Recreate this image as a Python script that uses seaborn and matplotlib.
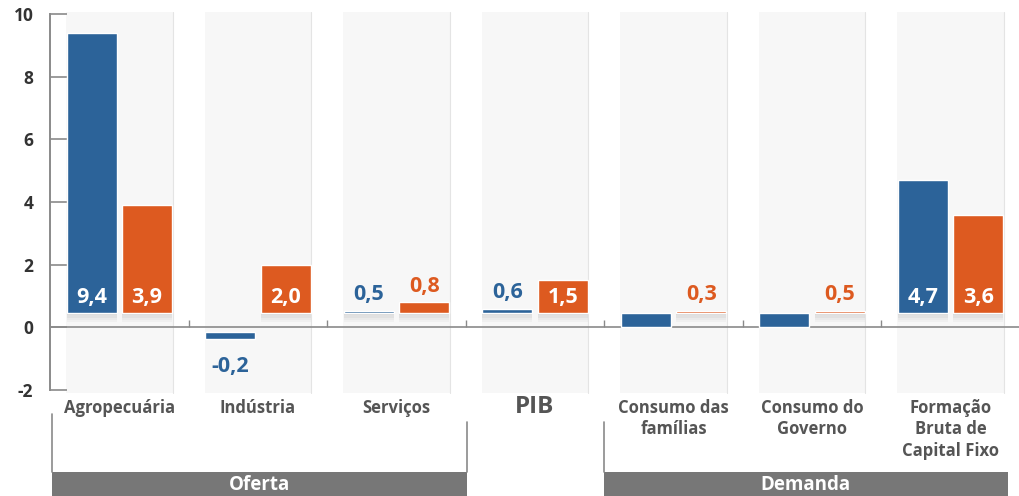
import numpy as np
import pandas as pd
import matplotlib
matplotlib.use("Agg")
import matplotlib.pyplot as plt
import seaborn as sns

# ---- data ----
categories = ["Agropecuária", "Indústria", "Serviços", "PIB",
              "Consumo das\nfamílias", "Consumo do\nGoverno",
              "Formação\nBruta de\nCapital Fixo"]
series = ["A", "B"]
blue_values = [9.4, -0.2, 0.5, 0.6, np.nan, np.nan, 4.7]
orange_values = [3.9, 2.0, 0.8, 1.5, 0.3, 0.5, 3.6]
blue_labels = ["9,4", "-0,2", "0,5", "0,6", "", "", "4,7"]
orange_labels = ["3,9", "2,0", "0,8", "1,5", "0,3", "0,5", "3,6"]
groups = ["Oferta", "Demanda"]
yticks = [-2, 0, 2, 4, 6, 8, 10]

BLUE = "#2c6399"
ORANGE = "#dd5a20"
GRAY_TXT = "#555555"
BASE = 0.45  # visual baseline of positive bars

sns.set_theme(style="white")
plt.rcParams["font.family"] = ["Open Sans", "DejaVu Sans"]

df = pd.DataFrame({
    "cat": categories * 2,
    "series": [series[0]] * len(categories) + [series[1]] * len(categories),
    "value": list(np.nan_to_num(blue_values, nan=0.0)) + orange_values,
})

fig = plt.figure(figsize=(10.2, 4.96), dpi=100)
ax = fig.add_axes([50 / 1020, 106 / 496, 970 / 1020, 376 / 496])
ax.set_xlim(-0.486, 6.443)
ax.set_ylim(-2, 10)

# panel backgrounds
n = len(categories)
for i in range(n):
    ax.add_patch(plt.Rectangle((i - 0.385, -2.08), 0.77, 12.15,
                               facecolor="#f7f7f7", edgecolor="none",
                               zorder=0, clip_on=False))
    ax.plot([i + 0.385, i + 0.385], [-2.08, 10.07], color="#e4e4e4",
            lw=0.8, zorder=0.5, clip_on=False)

sns.barplot(data=df, x="cat", y="value", hue="series", order=categories,
            hue_order=series, palette=[BLUE, ORANGE], gap=0.1, width=0.8,
            saturation=1, legend=False, ax=ax, zorder=3)

VFS = 15.5
vals_all = [blue_values, orange_values]
labs_all = [blue_labels, orange_labels]
cols = [BLUE, ORANGE]
for k, cont in enumerate(ax.containers):
    for i, rect in enumerate(cont):
        v = vals_all[k][i]
        x0, w = rect.get_x(), rect.get_width()
        xc = x0 + w / 2
        if np.isnan(v):
            rect.set_y(0)
            rect.set_height(BASE)
            continue
        if v < 0:
            rect.set_y(v - 0.17)
            rect.set_height(0.22)
            ax.text(xc, v - 0.17 - 0.55, labs_all[k][i], ha="center", va="top",
                    color=cols[k], fontsize=VFS, fontweight="bold", zorder=5)
            continue
        top = max(v, BASE + 0.08)
        rect.set_y(BASE)
        rect.set_height(top - BASE)
        # shadow below the bar
        for j, a in enumerate([0.5, 0.35, 0.2, 0.1]):
            ax.add_patch(plt.Rectangle((x0, BASE - (j + 1) * 0.07), w, 0.07,
                                       facecolor="#b8b8b8", alpha=a,
                                       edgecolor="none", zorder=2))
        if v >= 1.5:
            ax.text(xc, 0.95, labs_all[k][i], ha="center", va="center",
                    color="white", fontsize=VFS, fontweight="bold", zorder=5)
        else:
            ax.text(xc, top + 0.33, labs_all[k][i], ha="center",
                    va="baseline", color=cols[k], fontsize=VFS,
                    fontweight="bold", zorder=5)

# zero line and boundary ticks
ax.axhline(0, color="#8a8a8a", lw=1.2, zorder=1)
ax.vlines([i + 0.5 for i in range(n - 1)], 0, 0.22, color="#8a8a8a",
          lw=1.0, zorder=1)

# axes styling
for s in ["top", "right", "bottom"]:
    ax.spines[s].set_visible(False)
ax.spines["left"].set_color("#8a8a8a")
ax.spines["left"].set_linewidth(1.4)
ax.set_yticks(yticks)
ax.set_yticklabels([str(t) for t in yticks])
ax.set_yticks([-2, 10], minor=True)
ax.tick_params(axis="y", which="major", direction="in", length=12,
               width=1.2, color="#8a8a8a", pad=12, labelsize=12.5,
               labelcolor="#333333", left=True)
ax.tick_params(axis="y", which="minor", direction="in", length=17,
               width=1.2, color="#8a8a8a", left=True)
for lab in ax.get_yticklabels():
    lab.set_fontweight("bold")
ax.set_xticks([])
ax.set_xlabel("")
ax.set_ylabel("")

# category labels
for i, c in enumerate(categories):
    if c == "PIB":
        ax.text(i, -2.15, c, ha="center", va="top", fontsize=17.5,
                fontweight="bold", color=GRAY_TXT, clip_on=False)
    else:
        ax.text(i, -2.28, c, ha="center", va="top", fontsize=12,
                fontweight="bold", color=GRAY_TXT, linespacing=1.25,
                clip_on=False)

# group bands
bands = [(-0.486, 2.507), (3.5, 6.41)]
for (a, b), g in zip(bands, groups):
    ax.add_patch(plt.Rectangle((a, -5.45), b - a, 0.83, facecolor="#777777",
                               edgecolor="none", clip_on=False))
    ax.text((a + b) / 2, -5.02, g, ha="center", va="center", color="white",
            fontsize=13.5, fontweight="bold", clip_on=False)
ax.plot([-0.486, -0.486], [-2.75, -4.62], color="#8a8a8a", lw=1.2,
        clip_on=False)
ax.plot([2.507, 2.507], [-3.03, -4.62], color="#8a8a8a", lw=1.2,
        clip_on=False)
ax.plot([3.5, 3.5], [-3.03, -4.62], color="#8a8a8a", lw=1.2, clip_on=False)

fig.savefig("out.png", dpi=100)
